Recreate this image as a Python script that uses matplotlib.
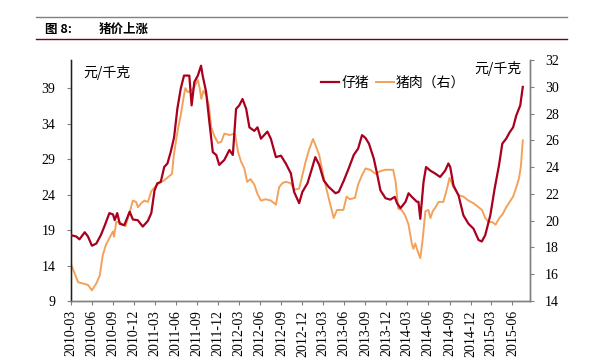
import matplotlib
matplotlib.use("Agg")
from matplotlib import pyplot as plt
import matplotlib.dates as mdates
import pandas as pd

plt.rcParams['font.family'] = ['Liberation Serif', 'Noto Sans CJK SC', 'DejaVu Sans']

# 仔猪 (left axis, 元/千克)
piglet_dates = [
    '2010-03-01', '2010-03-25', '2010-04-08', '2010-05-01', '2010-05-15', '2010-06-01',
    '2010-06-20', '2010-07-10', '2010-07-25', '2010-08-16', '2010-09-01', '2010-09-08',
    '2010-09-19', '2010-09-30', '2010-10-20', '2010-11-12', '2010-11-26', '2010-12-17',
    '2011-01-08', '2011-01-30', '2011-02-14', '2011-02-28', '2011-03-12', '2011-03-27',
    '2011-04-11', '2011-04-25', '2011-05-09', '2011-05-24', '2011-06-07', '2011-06-22',
    '2011-07-06', '2011-07-29', '2011-08-08', '2011-08-20', '2011-09-04', '2011-09-18',
    '2011-09-25', '2011-10-10', '2011-10-24', '2011-11-08', '2011-11-23', '2011-12-06',
    '2011-12-28', '2012-01-19', '2012-02-03', '2012-02-17', '2012-03-02', '2012-03-16',
    '2012-04-01', '2012-04-15', '2012-05-06', '2012-05-20', '2012-06-04', '2012-06-18',
    '2012-07-02', '2012-07-17', '2012-08-08', '2012-08-30', '2012-09-20', '2012-10-12',
    '2012-10-26', '2012-11-17', '2012-12-01', '2012-12-23', '2013-01-07', '2013-01-26',
    '2013-02-12', '2013-03-04', '2013-03-25', '2013-04-24', '2013-05-08', '2013-05-30',
    '2013-06-20', '2013-07-12', '2013-07-31', '2013-08-17', '2013-09-01', '2013-09-16',
    '2013-10-07', '2013-10-21', '2013-11-05', '2013-11-27', '2013-12-18', '2014-01-06',
    '2014-01-16', '2014-01-31', '2014-02-22', '2014-03-07', '2014-03-21', '2014-04-12',
    '2014-04-19', '2014-04-27', '2014-05-11', '2014-05-22', '2014-06-09', '2014-06-30',
    '2014-07-22', '2014-08-13', '2014-08-27', '2014-09-04', '2014-09-18', '2014-10-10',
    '2014-10-31', '2014-11-22', '2014-12-14', '2015-01-05', '2015-01-19', '2015-02-03',
    '2015-02-25', '2015-03-16', '2015-04-04', '2015-04-18', '2015-05-05', '2015-05-20',
    '2015-06-04', '2015-06-18', '2015-07-05', '2015-07-16',
]
piglet_values = [
    18.3, 18.1, 17.7, 18.7, 18.1, 16.8,
    17.1, 18.3, 19.5, 21.4, 21.2, 20.4,
    21.4, 19.9, 19.7, 21.6, 20.5, 20.4,
    19.5, 20.3, 21.4, 24.6, 25.6, 25.8,
    27.9, 28.4, 30.0, 32.1, 36.1, 39.0,
    40.8, 40.8, 36.6, 39.9, 40.8, 42.2,
    40.8, 38.5, 34.3, 30.0, 29.6, 28.2,
    28.9, 30.3, 29.6, 36.1, 36.6, 37.5,
    36.1, 33.5, 33.0, 33.5, 31.9, 32.4,
    32.9, 31.9, 29.3, 29.5, 28.4, 27.0,
    24.4, 22.8, 24.4, 25.6, 27.2, 29.3,
    28.2, 26.0, 25.1, 24.2, 24.4, 26.0,
    27.7, 29.6, 30.5, 32.4, 32.0, 31.2,
    29.1, 27.0, 24.6, 23.5, 23.3, 23.7,
    22.8, 22.1, 23.0, 24.2, 23.7, 23.0,
    23.0, 20.6, 25.8, 27.9, 27.4, 27.0,
    26.5, 27.4, 28.4, 27.9, 25.3, 23.9,
    21.1, 19.9, 19.2, 17.6, 17.4, 18.3,
    21.1, 24.9, 28.2, 31.2, 31.9, 32.8,
    33.5, 35.2, 36.6, 39.2,
]

# 猪肉 (right axis, 元/千克)
pork_dates = [
    '2010-03-01', '2010-03-15', '2010-04-02', '2010-04-25', '2010-05-15', '2010-06-01',
    '2010-06-20', '2010-07-05', '2010-07-18', '2010-08-01', '2010-08-16', '2010-09-01',
    '2010-09-05', '2010-09-15', '2010-09-30', '2010-10-12', '2010-10-25', '2010-11-10',
    '2010-11-26', '2010-12-10', '2010-12-18', '2011-01-01', '2011-01-15', '2011-01-30',
    '2011-02-14', '2011-03-01', '2011-03-20', '2011-04-10', '2011-05-01', '2011-05-15',
    '2011-05-22', '2011-06-07', '2011-06-22', '2011-07-06', '2011-07-12', '2011-07-22',
    '2011-08-05', '2011-08-20', '2011-09-04', '2011-09-12', '2011-09-19', '2011-09-28',
    '2011-10-10', '2011-10-22', '2011-11-01', '2011-11-15', '2011-12-01', '2011-12-15',
    '2011-12-28', '2012-01-20', '2012-02-12', '2012-02-26', '2012-03-10', '2012-03-24',
    '2012-04-05', '2012-04-20', '2012-05-06', '2012-05-20', '2012-06-04', '2012-06-25',
    '2012-07-17', '2012-08-08', '2012-08-22', '2012-09-05', '2012-09-20', '2012-10-12',
    '2012-10-26', '2012-11-17', '2012-12-01', '2012-12-15', '2012-12-30', '2013-01-16',
    '2013-01-28', '2013-02-12', '2013-03-04', '2013-03-25', '2013-04-16', '2013-04-30',
    '2013-05-15', '2013-05-28', '2013-06-11', '2013-06-25', '2013-07-17', '2013-07-31',
    '2013-08-17', '2013-09-01', '2013-09-22', '2013-10-14', '2013-11-05', '2013-11-26',
    '2013-12-30', '2014-01-10', '2014-01-21', '2014-02-05', '2014-02-20', '2014-03-07',
    '2014-03-21', '2014-03-28', '2014-04-05', '2014-04-16', '2014-04-27', '2014-05-06',
    '2014-05-19', '2014-06-01', '2014-06-10', '2014-06-20', '2014-07-02', '2014-07-15',
    '2014-08-05', '2014-08-21', '2014-09-01', '2014-09-18', '2014-10-10', '2014-10-31',
    '2014-11-22', '2014-12-14', '2015-01-05', '2015-01-20', '2015-02-03', '2015-02-17',
    '2015-03-05', '2015-03-20', '2015-04-05', '2015-04-20', '2015-05-05', '2015-05-20',
    '2015-06-04', '2015-06-18', '2015-06-30', '2015-07-08', '2015-07-16',
]
pork_values = [
    16.8, 16.2, 15.4, 15.3, 15.2, 14.8,
    15.3, 15.9, 17.4, 18.2, 18.7, 19.2,
    18.8, 19.9, 19.9, 19.7, 19.6, 20.5,
    21.5, 21.4, 21.0, 21.3, 21.5, 21.4,
    22.2, 22.5, 22.8, 23.0, 23.3, 23.5,
    24.8, 26.6, 27.9, 29.4, 29.9, 29.6,
    29.7, 30.0, 30.5, 29.9, 29.1, 29.7,
    29.4, 28.6, 27.0, 26.3, 25.8, 25.9,
    26.5, 26.4, 26.5, 25.1, 24.4, 23.9,
    22.9, 23.1, 22.7, 22.0, 21.5, 21.6,
    21.5, 21.2, 22.5, 22.8, 22.9, 22.8,
    22.3, 22.4, 23.4, 24.4, 25.3, 26.1,
    25.6, 24.9, 23.2, 21.7, 20.2, 20.8,
    20.8, 20.8, 21.8, 21.6, 21.7, 22.7,
    23.4, 23.9, 23.8, 23.5, 23.7, 23.8,
    23.8, 22.9, 20.9, 20.8, 20.4, 19.7,
    18.3, 17.9, 18.3, 17.7, 17.2, 18.4,
    20.7, 20.8, 20.2, 20.7, 21.0, 21.4,
    21.4, 22.4, 23.2, 22.5, 21.9, 21.8,
    21.5, 21.3, 21.0, 20.8, 20.2, 19.9,
    19.9, 19.7, 20.2, 20.5, 21.0, 21.4,
    21.8, 22.5, 23.2, 24.1, 26.0,
]

left_ticks = [9, 14, 19, 24, 29, 34, 39]
right_ticks = [14, 16, 18, 20, 22, 24, 26, 28, 30, 32]

red = '#A8001E'
orange = '#F2A25A'

fig = plt.figure(figsize=(5.98, 3.61), dpi=100)
ax = fig.add_axes([70.7 / 598, 60 / 361, 459 / 598, 241 / 361])
ax2 = ax.twinx()

l1, = ax.plot(pd.to_datetime(piglet_dates), piglet_values, color=red, lw=1.6, label='仔猪', zorder=3)
l2, = ax2.plot(pd.to_datetime(pork_dates), pork_values, color=orange, lw=1.4, label='猪肉（右）')
ax.set_zorder(ax2.get_zorder() + 1)
ax.patch.set_visible(False)

ax.set_xlim(pd.Timestamp('2010-03-01'), pd.Timestamp('2015-08-15'))
ax.set_ylim(9, 43)
ax2.set_ylim(14, 32)
ax.set_yticks(left_ticks)
ax2.set_yticks(right_ticks)

ax.xaxis.set_major_locator(mdates.MonthLocator(bymonth=[3, 6, 9, 12]))
ax.xaxis.set_major_formatter(mdates.DateFormatter('%Y-%m'))
for lab in ax.get_xticklabels():
    lab.set_rotation(90)

for a in (ax, ax2):
    for s in a.spines.values():
        s.set_color('#808080')
        s.set_linewidth(1.0)
    a.spines['top'].set_visible(False)
    a.tick_params(labelsize=10, length=3, color='#808080', width=0.8, direction='out')
ax.spines['left'].set_color('#202020')
ax.tick_params(axis='y', pad=8)
ax2.tick_params(axis='y', pad=8)

fig.text(83 / 598, 1 - 72 / 361, '元/千克', fontsize=10, family=['Noto Sans CJK SC'], va='center')
fig.text(521 / 598, 1 - 69 / 361, '元/千克', fontsize=10, family=['Noto Sans CJK SC'], va='center', ha='right')

fig.legend(handles=[l1, l2], loc='center left', bbox_to_anchor=(321 / 598, 1 - 83 / 361),
           ncol=2, frameon=False, handlelength=1.3, handletextpad=0.15, columnspacing=0.5,
           borderpad=0, borderaxespad=0, prop={'family': 'Noto Sans CJK SC', 'size': 10})

# header
fig.add_artist(plt.Line2D([36 / 598, 567 / 598], [1 - 17 / 361, 1 - 17 / 361], color='#808080', lw=1.0))
fig.add_artist(plt.Line2D([36 / 598, 567 / 598], [1 - 39 / 361, 1 - 39 / 361], color='#7A0010', lw=1.0))
fig.text(45 / 598, 1 - 29 / 361, '图 8:', fontsize=9, fontweight='bold', family=['Noto Sans CJK SC'], va='center')
fig.text(99 / 598, 1 - 29 / 361, '猪价上涨', fontsize=9, fontweight='bold', family=['Noto Sans CJK SC'], va='center')

fig.savefig('out.png', dpi=100)
